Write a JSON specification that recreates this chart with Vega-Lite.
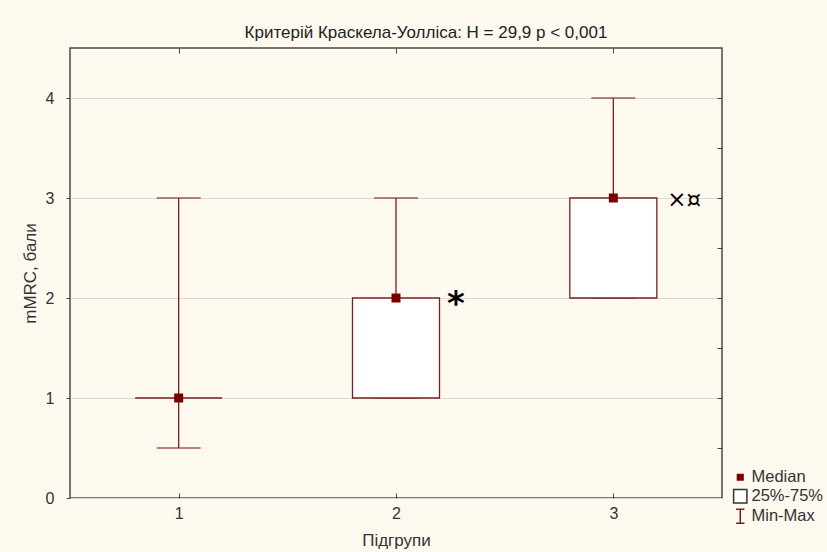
{
  "$schema": "https://vega.github.io/schema/vega-lite/v6.json",
  "autosize": {"type": "none"},
  "width": 652,
  "height": 450,
  "padding": {"left": 70, "top": 48, "right": 105, "bottom": 54},
  "background": "#fdf9ef",
  "title": {
    "text": "Критерій Краскела-Уолліса: H = 29,9 p < 0,001",
    "font": "Liberation Sans",
    "fontSize": 17,
    "fontWeight": "normal",
    "color": "#222222",
    "anchor": "middle",
    "dx": 30,
    "offset": 6
  },
  "config": {
    "view": {"fill": "#ffffff", "stroke": "#4a4a4a", "strokeWidth": 1.5},
    "axis": {
      "labelFont": "Liberation Sans",
      "labelFontSize": 16,
      "labelColor": "#333333",
      "titleFont": "Liberation Sans",
      "titleFontSize": 17,
      "titleFontWeight": "normal",
      "titleColor": "#333333",
      "tickColor": "#444444",
      "domain": false
    },
    "legend": {
      "symbolOpacity": 1,
      "labelFont": "Liberation Sans",
      "labelFontSize": 16.5,
      "labelColor": "#333333"
    }
  },
  "data": {
    "values": [
      {"g": 1, "min": 0.5, "q1": 1, "med": 1, "q3": 1, "max": 3, "label": ""},
      {"g": 2, "min": 1, "q1": 1, "med": 2, "q3": 2, "max": 3, "label": "*"},
      {"g": 3, "min": 2, "q1": 2, "med": 3, "q3": 3, "max": 4, "label": "×¤"}
    ]
  },
  "resolve": {"axis": {"x": "independent", "y": "independent"}},
  "layer": [
    {
      "mark": {"type": "rule", "color": "#7a1f1f", "strokeWidth": 1.3},
      "encoding": {
        "x": {
          "field": "g", "type": "quantitative",
          "scale": {"domain": [0.5, 3.5], "nice": false, "zero": false, "padding": 0},
          "axis": {"values": [1, 2, 3], "tickSize": -5, "labelPadding": 12, "grid": false, "title": "Підгрупи", "titlePadding": 11, "format": "d"}
        },
        "y": {
          "field": "min", "type": "quantitative",
          "scale": {"domain": [0, 4.5], "nice": false, "padding": 0},
          "axis": {"values": [0, 1, 2, 3, 4], "tickSize": 4, "labelPadding": 12, "grid": true, "gridColor": "#dadada", "title": "mMRC, бали", "titlePadding": 6, "format": "d"}
        },
        "y2": {"field": "max"}
      }
    },
    {
      "mark": {"type": "tick", "orient": "horizontal", "size": 44, "thickness": 1.4, "color": "#7a1f1f"},
      "encoding": {
        "x": {"field": "g", "type": "quantitative", "axis": {"orient": "top", "values": [1, 2, 3], "tickSize": -5, "labels": false, "title": null, "grid": false}},
        "y": {"field": "max", "type": "quantitative", "axis": {"orient": "right", "values": [0.5, 1, 1.5, 2, 2.5, 3, 3.5, 4], "tickSize": -5, "labels": false, "title": null, "grid": false}}
      }
    },
    {
      "mark": {"type": "tick", "orient": "horizontal", "size": 44, "thickness": 1.4, "color": "#7a1f1f"},
      "encoding": {
        "x": {"field": "g", "type": "quantitative", "axis": null},
        "y": {"field": "min", "type": "quantitative", "axis": null}
      }
    },
    {
      "mark": {"type": "bar", "size": 87, "fill": "#ffffff", "stroke": "#7a1f1f", "strokeWidth": 1.3},
      "encoding": {
        "x": {"field": "g", "type": "quantitative", "axis": null},
        "y": {"field": "q1", "type": "quantitative", "axis": null},
        "y2": {"field": "q3"}
      }
    },
    {
      "mark": {"type": "point", "shape": "square", "filled": true, "size": 81, "color": "#7a0000", "opacity": 1},
      "encoding": {
        "x": {"field": "g", "type": "quantitative", "axis": null},
        "y": {"field": "med", "type": "quantitative", "axis": null}
      }
    },
    {
      "transform": [{"filter": "datum.label == '*'"}],
      "mark": {"type": "text", "align": "left", "baseline": "middle", "dx": 51, "dy": 7, "font": "DejaVu Sans", "fontSize": 34, "fontWeight": "bold", "color": "#000000"},
      "encoding": {
        "x": {"field": "g", "type": "quantitative", "axis": null},
        "y": {"field": "med", "type": "quantitative", "axis": null},
        "text": {"field": "label"}
      }
    },
    {
      "transform": [{"filter": "datum.label == '×¤'"}],
      "mark": {"type": "text", "align": "left", "baseline": "middle", "dx": 54, "dy": 2, "font": "DejaVu Sans", "fontSize": 23, "color": "#000000"},
      "encoding": {
        "x": {"field": "g", "type": "quantitative", "axis": null},
        "y": {"field": "med", "type": "quantitative", "axis": null},
        "text": {"field": "label"}
      }
    },
    {
      "data": {"values": [{"item": "Median"}, {"item": "25%-75%"}, {"item": "Min-Max"}]},
      "mark": {"type": "point", "opacity": 0, "filled": true, "strokeWidth": 1.3},
      "encoding": {
        "fill": {
          "field": "item", "type": "nominal",
          "scale": {"domain": ["Median", "25%-75%", "Min-Max"], "range": ["#7a0000", "#ffffff", "transparent"]},
          "legend": {"title": null, "orient": "none", "legendX": 662, "legendY": 421, "symbolSize": 196, "rowPadding": 0, "labelOffset": 3}
        },
        "stroke": {
          "field": "item", "type": "nominal",
          "scale": {"domain": ["Median", "25%-75%", "Min-Max"], "range": ["#7a0000", "#333333", "#7a1f1f"]},
          "legend": {"title": null, "orient": "none", "legendX": 662, "legendY": 421, "symbolSize": 196, "rowPadding": 0, "labelOffset": 3}
        },
        "shape": {
          "field": "item", "type": "nominal",
          "scale": {"domain": ["Median", "25%-75%", "Min-Max"], "range": ["M-0.4,-0.4H0.4V0.4H-0.4Z", "M-0.95,-0.95H0.95V0.95H-0.95Z", "M-0.6,-1H0.6M0,-1V1M-0.6,1H0.6"]},
          "legend": {"title": null, "orient": "none", "legendX": 662, "legendY": 421, "symbolSize": 196, "rowPadding": 0, "labelOffset": 3}
        }
      }
    }
  ]
}
